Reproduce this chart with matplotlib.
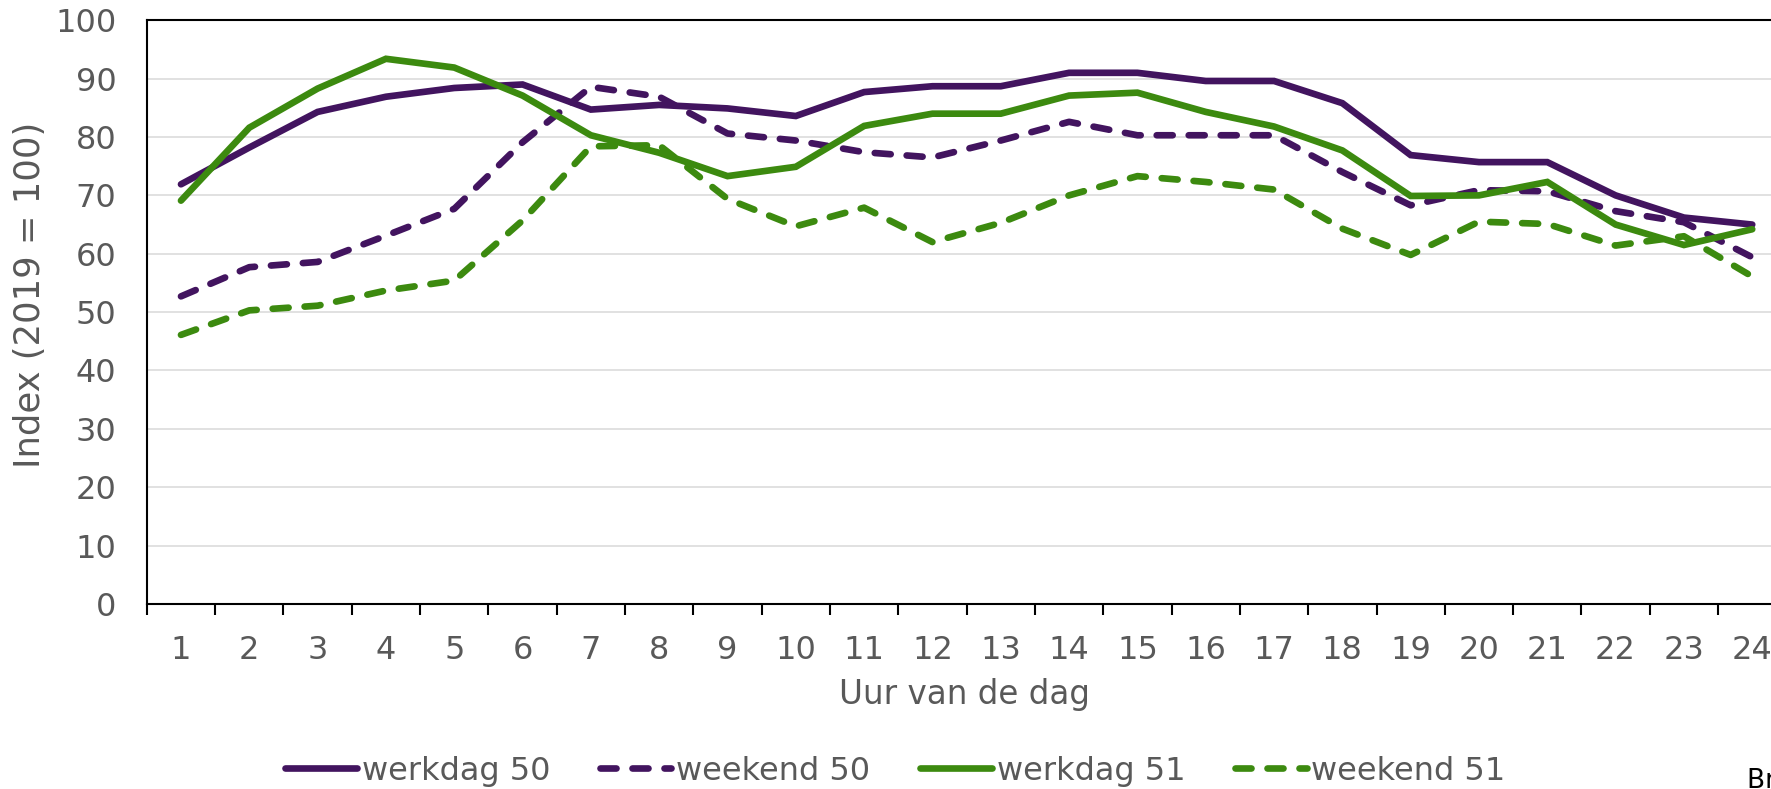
import matplotlib
matplotlib.use("Agg")
import matplotlib.pyplot as plt

hours = list(range(1, 25))
hour_labels = [str(h) for h in hours]

werkdag_50 = [71.9, 78.2, 84.3, 86.9, 88.4, 89.0, 84.7, 85.5, 84.9, 83.6, 87.7, 88.7,
              88.7, 91.0, 91.0, 89.6, 89.6, 85.8, 76.9, 75.7, 75.7, 70.0, 66.2, 65.0]
weekend_50 = [52.7, 57.7, 58.6, 63.1, 67.7, 79.1, 88.6, 86.9, 80.6, 79.4, 77.4, 76.5,
              79.4, 82.6, 80.3, 80.3, 80.3, 74.0, 68.3, 70.9, 70.7, 67.3, 65.4, 59.4]
werkdag_51 = [69.1, 81.6, 88.3, 93.4, 91.9, 87.1, 80.3, 77.3, 73.3, 74.9, 81.9, 84.0,
              84.0, 87.1, 87.6, 84.3, 81.8, 77.7, 69.9, 70.0, 72.3, 65.0, 61.5, 64.2]
weekend_51 = [46.1, 50.3, 51.1, 53.7, 55.4, 65.7, 78.4, 78.6, 69.4, 64.7, 67.9, 62.0,
              65.3, 70.0, 73.3, 72.3, 71.0, 64.3, 59.8, 65.5, 65.1, 61.4, 63.0, 56.1]

series_names = ["werkdag 50", "weekend 50", "werkdag 51", "weekend 51"]

PURPLE = "#42145f"
GREEN = "#3c8a0f"
GREY = "#595959"

plt.rcParams["font.family"] = ["DejaVu Sans"]

fig = plt.figure(figsize=(17.71, 7.89), dpi=100)
ax = fig.add_axes([0.0829, 0.2345, 0.9258, 0.7398])

lw = 4.8
dash = (0, (2.4, 2.4))
styles = [
    (werkdag_50, PURPLE, "-"),
    (weekend_50, PURPLE, dash),
    (werkdag_51, GREEN, "-"),
    (weekend_51, GREEN, dash),
]
for (vals, col, ls), name in zip(styles, series_names):
    ax.plot(hours, vals, color=col, lw=lw, linestyle=ls, label=name,
            solid_capstyle="round", dash_capstyle="round", solid_joinstyle="miter",
            clip_on=False, zorder=3)

ax.set_xlim(0.5, 24.5)
ax.set_ylim(0, 100)
ax.set_yticks(range(0, 101, 10))
ax.set_xticks(hours)
ax.set_xticklabels(hour_labels)
ax.set_xticks([h + 0.5 for h in range(0, 25)], minor=True)

ax.grid(axis="y", color="#d9d9d9", lw=1.1, zorder=0)
ax.set_axisbelow(True)

for s in ["left", "bottom", "top", "right"]:
    ax.spines[s].set_color("black")
    ax.spines[s].set_linewidth(1.5)

ax.tick_params(axis="x", which="major", length=0, pad=22, labelsize=23, labelcolor=GREY)
ax.tick_params(axis="x", which="minor", length=8, width=1.5, color="black", direction="out")
ax.tick_params(axis="y", which="major", length=0, pad=22, labelsize=23, labelcolor=GREY)

ax.set_xlabel("Uur van de dag", fontsize=23.5, color=GREY)
ax.xaxis.set_label_coords(0.4985, -0.127)
ax.set_ylabel("Index (2019 = 100)", fontsize=25.5, color=GREY, va="center")
ax.yaxis.set_label_coords(-0.071, 0.53)

leg = fig.legend(loc="center", bbox_to_anchor=(0.5055, 0.0228), ncol=4, frameon=False,
                 fontsize=23, handlelength=2.25, handletextpad=0.15, columnspacing=1.55,
                 borderpad=0, borderaxespad=0)
for t in leg.get_texts():
    t.set_color(GREY)

fig.text(1747 / 1771, -0.006, "Bron: CBS", fontsize=19, color="black", ha="left", va="bottom")

fig.savefig("out.png", dpi=100)
